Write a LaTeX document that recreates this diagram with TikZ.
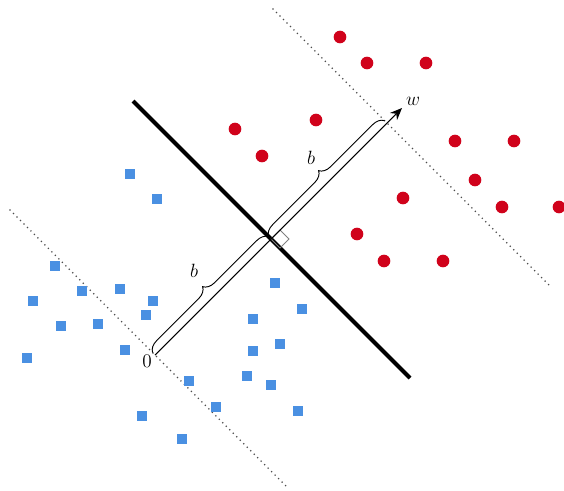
\documentclass[tikz,border=0pt]{standalone}
\usetikzlibrary{arrows.meta,decorations.pathreplacing,calc}
\definecolor{ptred}{HTML}{D0021B}
\definecolor{ptblue}{HTML}{4A90E2}
\tikzset{
  redpt/.style={circle,fill=ptred,inner sep=0pt,minimum size=9.5pt},
  bluept/.style={rectangle,fill=ptblue,inner sep=0pt,minimum size=7.5pt},
  margin/.style={line width=1.3pt,dash pattern=on 0pt off 3.7pt,line cap=round,black!70},
  hyper/.style={line width=3pt},
  vec/.style={line width=0.8pt,-{Stealth[length=9pt,width=7.5pt]}},
  bracestyle/.style={line width=0.7pt,decorate,decoration={brace,amplitude=8.5pt,raise=2.5pt}},
  lbl/.style={font=\Large,inner sep=0pt}
}
\begin{document}
\begin{tikzpicture}[x=0.75pt,y=-0.75pt]
\useasboundingbox (0,0) rectangle (564,490);
% key points
\coordinate (O) at (155,355);
\coordinate (P) at (271,239);
\coordinate (Q) at (387,123);
\coordinate (W) at (402,108);
% margins
\coordinate (m1a) at (273,9);
\coordinate (m1b) at (549,285);
\coordinate (m2a) at (10,210);
\coordinate (m2b) at (287,487);
\draw[margin] (m1a) -- (m1b);
\draw[margin] (m2a) -- (m2b);
% hyperplane
\coordinate (h1) at (133,101);
\coordinate (h2) at (410,378);
\draw[hyper] (h1) -- (h2);
% right angle marker
\draw[gray,line width=0.7pt] (P) -- ($(P)+(9,-9)$) -- ($(P)+(18,0)$) -- ($(P)+(9,9)$) -- cycle;
% vector
\draw[vec] (O) -- (W);
% braces
\draw[bracestyle] (O) -- (P);
\draw[bracestyle] (P) -- (Q);
\node[lbl] (b1) at (194,271) {$b$};
\node[lbl] (b2) at (311,158) {$b$};
\node[lbl] (w) at (413,101) {$w$};
\node[lbl] (zero) at (147,361) {$0$};
% red points
\foreach \x/\y [count=\i] in {340/37,367/63,426/63,235/129,316/120,262/156,455/141,514/141,475/180,403/198,502/207,559/207,357/234,384/261,443/261}
  \node[redpt] (r\i) at (\x,\y) {};
% blue points
\foreach \x/\y [count=\i] in {130/174,157/199,55/266,33/301,82/291,120/289,153/301,61/326,98/324,146/315,125/350,27/358,275/283,302/309,253/319,280/344,253/351,247/376,271/385,189/381,216/407,298/411,142/416,182/439}
  \node[bluept] (s\i) at (\x,\y) {};
\end{tikzpicture}
\end{document}
